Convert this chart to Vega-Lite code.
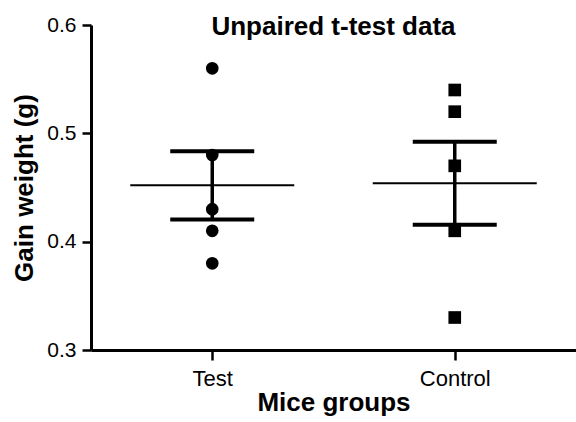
{
  "$schema": "https://vega.github.io/schema/vega-lite/v6.json",
  "width": 485,
  "height": 325,
  "autosize": {"type": "none"},
  "padding": {"left": 91, "top": 25, "right": 0, "bottom": 72},
  "background": "white",
  "config": {
    "font": "Liberation Sans",
    "view": {"stroke": null},
    "axis": {
      "grid": false,
      "domainColor": "black",
      "domainWidth": 3,
      "tickColor": "black",
      "tickWidth": 2.5,
      "labelColor": "black",
      "titleColor": "black",
      "labelFont": "Liberation Sans",
      "titleFont": "Liberation Sans"
    }
  },
  "title": {
    "text": "Unpaired t-test data",
    "fontSize": 26,
    "fontWeight": "bold",
    "font": "Liberation Sans",
    "color": "black",
    "anchor": "middle",
    "baseline": "alphabetic",
    "offset": 0,
    "dy": 47
  },
  "data": {
    "values": [
      {"group": "Test", "value": 0.56},
      {"group": "Test", "value": 0.48},
      {"group": "Test", "value": 0.43},
      {"group": "Test", "value": 0.41},
      {"group": "Test", "value": 0.38},
      {"group": "Control", "value": 0.54},
      {"group": "Control", "value": 0.52},
      {"group": "Control", "value": 0.47},
      {"group": "Control", "value": 0.41},
      {"group": "Control", "value": 0.33}
    ]
  },
  "encoding": {
    "x": {
      "field": "group",
      "type": "nominal",
      "sort": ["Test", "Control"],
      "scale": {"type": "point", "padding": 0.5},
      "axis": {
        "title": "Mice groups",
        "labelAngle": 0,
        "labelFontSize": 22,
        "labelBaseline": "alphabetic",
        "labelPadding": 25,
        "tickSize": 10,
        "titleFontSize": 26,
        "titleFontWeight": "bold",
        "titleBaseline": "alphabetic",
        "titleY": 60
      }
    }
  },
  "layer": [
    {
      "mark": {"type": "point", "filled": true, "opacity": 1, "color": "black", "size": 160},
      "encoding": {
        "y": {
          "field": "value",
          "type": "quantitative",
          "title": "Gain weight (g)",
          "scale": {"domain": [0.3, 0.6], "nice": false, "zero": false},
          "axis": {
            "title": "Gain weight (g)",
            "values": [0.3, 0.4, 0.5, 0.6],
            "format": ".1f",
            "labelFontSize": 21,
            "labelPadding": 6,
            "tickSize": 9,
            "titleFontSize": 26,
            "titleFontWeight": "bold",
            "titleBaseline": "alphabetic",
            "titleAngle": -90,
            "titleX": -59,
            "titleY": 162.5
          }
        },
        "shape": {
          "field": "group",
          "type": "nominal",
          "scale": {"domain": ["Test", "Control"], "range": ["circle", "square"]},
          "legend": null
        }
      }
    },
    {
      "mark": {"type": "tick", "color": "black", "opacity": 1, "size": 164, "thickness": 2},
      "encoding": {
        "y": {"aggregate": "mean", "field": "value", "type": "quantitative", "title": "Gain weight (g)"}
      }
    },
    {
      "mark": {
        "type": "errorbar",
        "extent": "stderr",
        "color": "black",
        "opacity": 1,
        "ticks": {"size": 84, "thickness": 4, "color": "black", "opacity": 1},
        "rule": {"strokeWidth": 3.5, "color": "black", "opacity": 1}
      },
      "encoding": {
        "y": {"field": "value", "type": "quantitative", "title": "Gain weight (g)"}
      }
    }
  ]
}
